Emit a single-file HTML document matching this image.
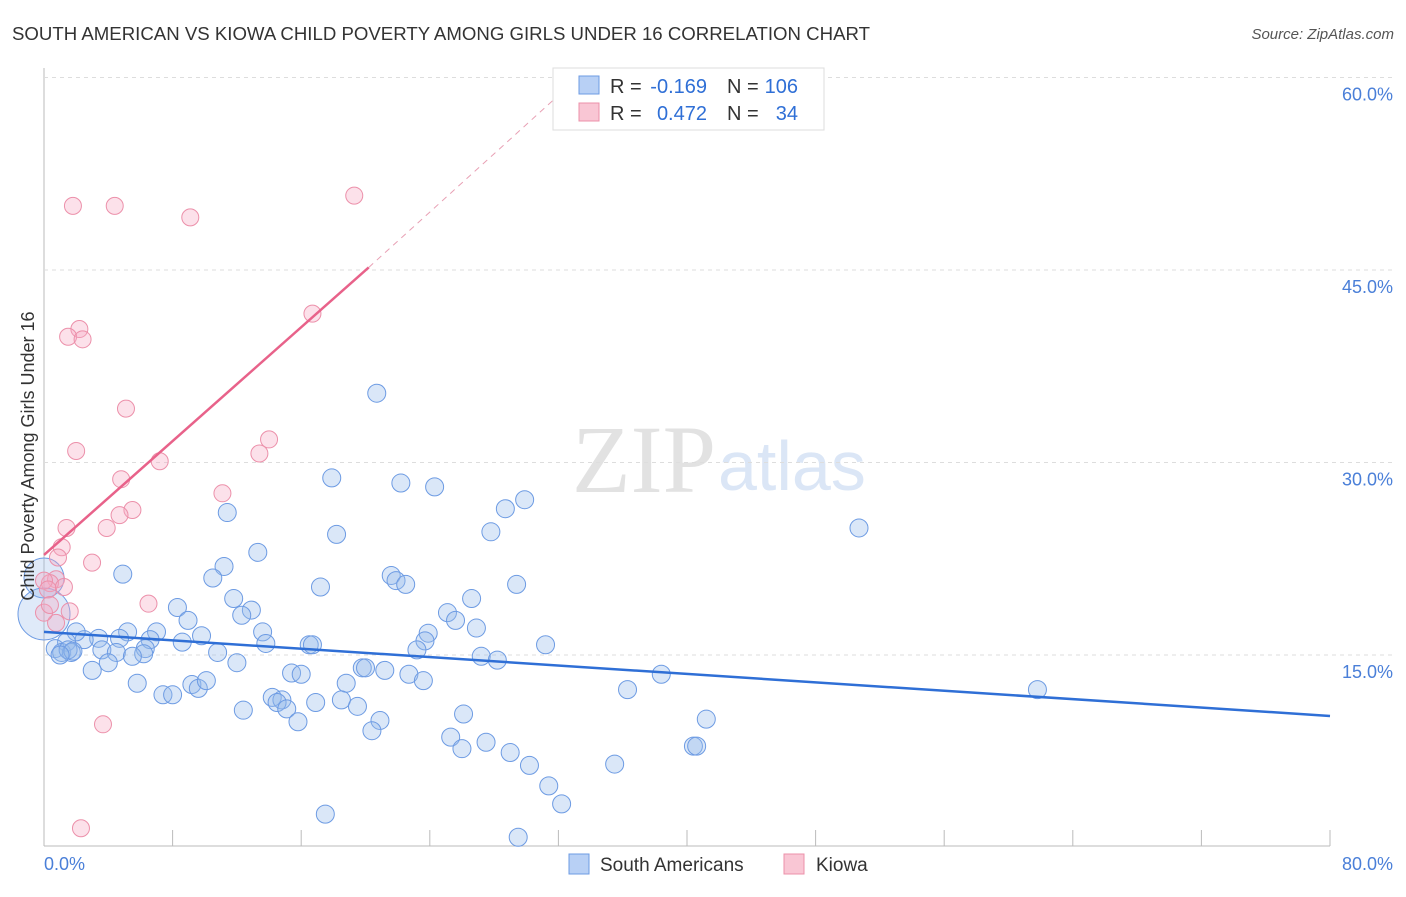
<!DOCTYPE html>
<html><head><meta charset="utf-8"><style>
body{margin:0;background:#fff;font-family:"Liberation Sans",sans-serif}
</style></head><body>
<svg id="chart" width="1406" height="892" xmlns="http://www.w3.org/2000/svg" style="font-family:'Liberation Sans',sans-serif">
<text x="12" y="40" font-size="18" fill="#333" textLength="858" lengthAdjust="spacingAndGlyphs">SOUTH AMERICAN VS KIOWA CHILD POVERTY AMONG GIRLS UNDER 16 CORRELATION CHART</text>
<text x="1394" y="39" font-size="15" fill="#555" font-style="italic" text-anchor="end">Source: ZipAtlas.com</text>
<text x="716" y="492" font-size="96" fill="#e2e2e2" text-anchor="end" font-family="Liberation Serif">ZIP</text>
<text x="718" y="490" font-size="70" fill="#dbe6f6">atlas</text>
<g id="grid"></g><g id="marks"></g><g id="lines"></g>
<text transform="translate(34,456) rotate(-90)" font-size="18" fill="#333" text-anchor="middle">Child Poverty Among Girls Under 16</text>
<g>
<rect x="553" y="68" width="271" height="62" fill="#fff" stroke="#ddd"/>
<rect x="579" y="76" width="20" height="18" fill="#b8d0f5" stroke="#6d9be3"/>
<rect x="579" y="103" width="20" height="18" fill="#f9c6d4" stroke="#ec90aa"/>
<g font-size="20" fill="#333">
<text x="610" y="93">R =</text><text x="707" y="93" fill="#2f6fd6" text-anchor="end">-0.169</text>
<text x="727" y="93">N =</text><text x="798" y="93" fill="#2f6fd6" text-anchor="end">106</text>
<text x="610" y="120">R =</text><text x="707" y="120" fill="#2f6fd6" text-anchor="end">0.472</text>
<text x="727" y="120">N =</text><text x="798" y="120" fill="#2f6fd6" text-anchor="end">34</text>
</g></g>
<g>
<rect x="569" y="854" width="20" height="20" fill="#b8d0f5" stroke="#6d9be3"/>
<text x="600" y="871" font-size="19" fill="#333">South Americans</text>
<rect x="784" y="854" width="20" height="20" fill="#f9c6d4" stroke="#ec90aa"/>
<text x="816" y="871" font-size="19" fill="#333">Kiowa</text>
</g>
</svg>
<script>
const yTicks=[15,30,45,60];
const yTickLabels=["15.0%","30.0%","45.0%","60.0%"];
const xTickLabels=["0.0%","80.0%"];
const blueX=[20.7,17.9,22.2,24.3,29.9,28.7,27.8,50.7,11.4,18.2,13.3,4.9,11.2,10.5,21.6,21.9,22.5,29.4,17.2,11.8,8.3,12.9,12.3,8.96,25.1,26.6,25.6,26.9,23.9,23.7,31.2,23.2,13.6,13.8,9.8,7.0,8.6,6.6,5.2,4.7,3.4,2.5,2.0,1.4,0.7,1.1,1.7,3.6,4.5,6.3,6.2,5.5,4.0,3.0,10.8,12.0,16.5,16.7,15.4,16.0,19.8,20.0,21.2,18.8,22.7,23.6,27.2,28.2,36.3,38.4,61.8,5.8,7.4,8.0,9.2,9.6,10.1,14.2,14.8,14.5,15.1,12.4,16.9,18.5,19.5,15.8,20.9,20.4,26.1,25.3,26.0,27.5,29.0,30.2,31.4,32.2,35.5,40.4,40.6,41.2,17.5,29.5,1.5,1.8,1.0];
const blueY=[35.4,28.8,28.4,28.1,27.1,26.4,24.6,24.9,26.1,24.4,23.0,21.3,21.9,21.0,21.2,20.8,20.5,20.5,20.3,19.4,18.7,18.5,18.1,17.7,18.3,19.4,17.7,17.1,16.7,16.1,15.8,15.4,16.8,15.9,16.5,16.8,16.0,16.2,16.8,16.3,16.3,16.2,16.8,16.0,15.5,15.2,15.2,15.4,15.2,15.5,15.1,14.9,14.4,13.8,15.2,14.4,15.8,15.8,13.6,13.5,14.0,14.0,13.8,12.8,13.5,13.0,14.9,14.6,12.3,13.5,12.3,12.8,11.9,11.9,12.7,12.4,13.0,11.7,11.5,11.3,10.8,10.7,11.3,11.5,11.0,9.8,9.9,9.1,10.4,8.6,7.7,8.2,7.4,6.4,4.8,3.4,6.5,7.9,7.9,10.0,2.6,0.8,15.4,15.3,15.0];
const pinkX=[19.3,1.8,4.4,9.1,16.7,2.2,1.5,2.4,5.1,2.0,14.0,13.4,7.2,4.8,11.1,5.5,4.7,1.4,3.9,1.1,2.99,0.87,6.5,1.6,0.75,0.37,0.0,0.25,1.24,0.75,3.67,2.3,0.0,0.37];
const pinkY=[50.8,50.0,50.0,49.1,41.6,40.4,39.8,39.6,34.2,30.9,31.8,30.7,30.1,28.7,27.6,26.3,25.9,24.9,24.9,23.4,22.2,22.6,19.0,18.4,20.9,20.6,20.8,20.1,20.3,17.5,9.6,1.5,18.3,18.9];
const bigX=[0.0,0.0], bigY=[21.0,18.2], bigR=[20,26];
const blueFit=[16.8,10.25], pinkFit=[22.8,45.2], pinkDash=[32.0,58.6];
const X=v=>44+v*16.075, Y=v=>847.5-v*12.833;
const ns="http://www.w3.org/2000/svg";
function mk(t,a,p){const e=document.createElementNS(ns,t);for(const k in a)e.setAttribute(k,a[k]);p.appendChild(e);return e;}
const grid=document.getElementById('grid'),marks=document.getElementById('marks'),lines=document.getElementById('lines');
const ax=mk('line',{x1:44,y1:68,x2:44,y2:846,stroke:'#bbb'},grid);

const bx=mk('line',{x1:44,y1:846,x2:1330,y2:846,stroke:'#bbb'},grid);

for(let i=0;i<=10;i++){const t=mk('line',{x1:X(i*8),x2:X(i*8),y1:830,y2:846,stroke:'#bbb'},grid);
}
yTicks.forEach((v,i)=>{const g=mk('line',{x1:44,x2:1394,y1:Y(v),y2:Y(v),stroke:'#ddd','stroke-dasharray':'4,4'},grid);

const t=mk('text',{x:1393,y:Y(v)+23,'font-size':18,fill:'#4a7fd8','text-anchor':'end'},grid);t.textContent=yTickLabels[i];
});
[[44,'start',xTickLabels[0]],[1393,'end',xTickLabels[1]]].forEach(d=>{const t=mk('text',{x:d[0],y:870,'font-size':18,fill:'#4a7fd8','text-anchor':d[1]},grid);t.textContent=d[2];
});
bigX.forEach((v,i)=>{const c=mk('circle',{cx:X(v),cy:Y(bigY[i]),r:bigR[i],fill:'rgba(150,185,235,0.3)',stroke:'#6d9be3','stroke-width':1},marks);
});
pinkX.forEach((v,i)=>{const c=mk('circle',{cx:X(v),cy:Y(pinkY[i]),r:8.5,fill:'rgba(245,170,195,0.35)',stroke:'#ec90aa','stroke-width':1},marks);
});
blueX.forEach((v,i)=>{const c=mk('circle',{cx:X(v),cy:Y(blueY[i]),r:9,fill:'rgba(150,185,235,0.35)',stroke:'#6d9be3','stroke-width':1},marks);
});
const l1=mk('line',{x1:X(0),y1:Y(blueFit[0]),x2:X(80),y2:Y(blueFit[1]),stroke:'#2f6fd6','stroke-width':2.5},lines);

const l2=mk('line',{x1:X(0),y1:Y(pinkFit[0]),x2:X(20.2),y2:Y(pinkFit[1]),stroke:'#e8628a','stroke-width':2.5},lines);

const l3=mk('line',{x1:X(20.2),y1:Y(pinkFit[1]),x2:X(pinkDash[0]),y2:Y(pinkDash[1]),stroke:'#e8a0b4','stroke-width':1,'stroke-dasharray':'6,5'},lines);

</script>
</body></html>
